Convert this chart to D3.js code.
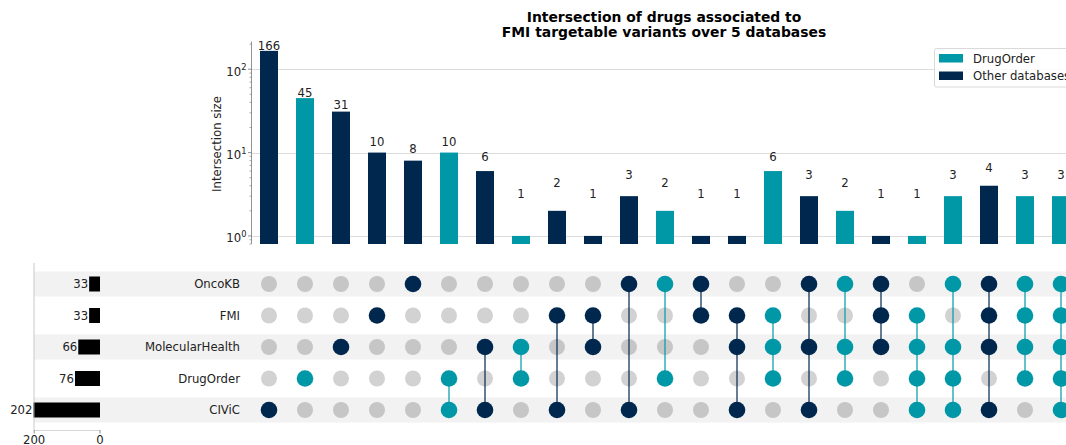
<!DOCTYPE html>
<html>
<head>
<meta charset="utf-8">
<script src="https://cdn.jsdelivr.net/npm/d3@7"></script>
<style>
  html, body { margin: 0; padding: 0; background: #fff; }
  svg { display: block; font-family: "DejaVu Sans", sans-serif; }
</style>
</head>
<body>
<svg id="chart" width="1066" height="445"></svg>
<script>
// ---- data ----
const titleLines = ["Intersection of drugs associated to", "FMI targetable variants over 5 databases"];
const sets = ["OncoKB", "FMI", "MolecularHealth", "DrugOrder", "CIViC"];
const setSizes = [33, 33, 66, 76, 202];
const intersections = [
  ["CIViC"],
  ["DrugOrder"],
  ["MolecularHealth"],
  ["FMI"],
  ["OncoKB"],
  ["DrugOrder", "CIViC"],
  ["MolecularHealth", "CIViC"],
  ["MolecularHealth", "DrugOrder"],
  ["FMI", "CIViC"],
  ["FMI", "MolecularHealth"],
  ["OncoKB", "CIViC"],
  ["OncoKB", "DrugOrder"],
  ["OncoKB", "FMI"],
  ["FMI", "MolecularHealth", "CIViC"],
  ["FMI", "MolecularHealth", "DrugOrder"],
  ["OncoKB", "MolecularHealth", "CIViC"],
  ["OncoKB", "MolecularHealth", "DrugOrder"],
  ["OncoKB", "FMI", "MolecularHealth"],
  ["FMI", "MolecularHealth", "DrugOrder", "CIViC"],
  ["OncoKB", "MolecularHealth", "DrugOrder", "CIViC"],
  ["OncoKB", "FMI", "MolecularHealth", "CIViC"],
  ["OncoKB", "FMI", "MolecularHealth", "DrugOrder"],
  ["OncoKB", "FMI", "MolecularHealth", "DrugOrder", "CIViC"]
];
const counts = [166, 45, 31, 10, 8, 10, 6, 1, 2, 1, 3, 2, 1, 1, 6, 3, 2, 1, 1, 3, 4, 3, 3];
const legendLabels = ["DrugOrder", "Other databases"];
const yTicks = [1, 10, 100];
const sizeTicks = [200, 0];
const highlightSet = "DrugOrder";

// ---- style ----
const TEAL = "#0097a7";
const NAVY = "#00284f";
const FS = 11.7;

const svg = d3.select("#chart");

const colorOf = i => intersections[i].includes(highlightSet) ? TEAL : NAVY;

// column scale (shared by bars and matrix)
const idx = d3.range(counts.length);
const x = d3.scaleBand().domain(idx).range([251, 251 + 36 * counts.length])
  .paddingInner(0.5).paddingOuter(0.25);
const cx = i => x(i) + x.bandwidth() / 2;

// log y scale for intersection sizes
const y = d3.scaleLog().domain([0.8, 215]).range([244, 41.5]);

// title
svg.append("g").selectAll("text").data(titleLines).join("text")
  .attr("x", 664).attr("y", (d, i) => 22 + i * 15)
  .attr("text-anchor", "middle")
  .attr("font-size", 13.9).attr("font-weight", "bold").attr("fill", "#000")
  .text(d => d);

// gridlines
svg.append("g").selectAll("line").data(yTicks).join("line")
  .attr("x1", 251).attr("x2", 1066)
  .attr("y1", d => Math.round(y(d)) + 0.5).attr("y2", d => Math.round(y(d)) + 0.5)
  .attr("stroke", "#dcdcdc").attr("stroke-width", 1);

// bars
svg.append("g").selectAll("rect").data(idx).join("rect")
  .attr("x", i => x(i)).attr("width", x.bandwidth())
  .attr("y", i => y(counts[i])).attr("height", i => y.range()[0] - y(counts[i]))
  .attr("fill", i => colorOf(i));

// bar labels (offset in data units like upsetplot)
const margin = 1.88;
svg.append("g").selectAll("text").data(idx).join("text")
  .attr("x", i => cx(i)).attr("y", i => y(counts[i] + margin))
  .attr("text-anchor", "middle").attr("font-size", FS).attr("fill", "#222")
  .text(i => counts[i]);

// y axis
const yAxisG = svg.append("g");
yAxisG.append("line").attr("x1", 251.5).attr("x2", 251.5).attr("y1", 41.5).attr("y2", 244)
  .attr("stroke", "#777").attr("stroke-width", 0.8);
const minor = [];
[-1, 0, 1, 2].forEach(k => { for (let m = 2; m <= 9; m++) { const v = m * Math.pow(10, k); if (v >= 0.8 && v <= 215) minor.push(v); } });
yAxisG.selectAll("line.minor").data(minor).join("line").attr("class", "minor")
  .attr("x1", 249.5).attr("x2", 251.5)
  .attr("y1", d => y(d)).attr("y2", d => y(d))
  .attr("stroke", "#777").attr("stroke-width", 0.6);
yAxisG.selectAll("line.major").data(yTicks).join("line").attr("class", "major")
  .attr("x1", 248).attr("x2", 251.5)
  .attr("y1", d => y(d)).attr("y2", d => y(d))
  .attr("stroke", "#777").attr("stroke-width", 0.8);
const tl = yAxisG.selectAll("text.tl").data(yTicks).join("text").attr("class", "tl")
  .attr("x", 246.5).attr("y", d => y(d) + 6.5)
  .attr("text-anchor", "end").attr("font-size", FS).attr("fill", "#222");
tl.append("tspan").text("10");
tl.append("tspan").attr("font-size", 8.3).attr("dy", -5.5).text(d => Math.round(Math.log10(d)));

svg.append("text")
  .attr("transform", "translate(221,144) rotate(-90)")
  .attr("text-anchor", "middle").attr("font-size", FS).attr("fill", "#222")
  .text("Intersection size");

// legend
const lg = svg.append("g");
lg.append("rect").attr("x", 934.5).attr("y", 48.5).attr("width", 140).attr("height", 38.5)
  .attr("rx", 2).attr("fill", "#fff").attr("fill-opacity", 0.85).attr("stroke", "#d9d9d9");
lg.selectAll("rect.p").data(legendLabels).join("rect").attr("class", "p")
  .attr("x", 939).attr("y", (d, i) => 54 + i * 17.5).attr("width", 24).attr("height", 8.5)
  .attr("fill", (d, i) => i === 0 ? TEAL : NAVY);
lg.selectAll("text").data(legendLabels).join("text")
  .attr("x", 973).attr("y", (d, i) => 62.5 + i * 17.5)
  .attr("font-size", FS).attr("fill", "#222").text(d => d);

// matrix
const rowY = d3.scaleBand().domain(sets).range([268.25, 268.25 + 31.5 * sets.length]);
const ry = s => rowY(s) + rowY.bandwidth() / 2;

// stripes
svg.append("g").selectAll("rect").data(sets.filter((s, i) => i % 2 === 0)).join("rect")
  .attr("x", 34).attr("width", 1066 - 34)
  .attr("y", s => ry(s) - 12.5).attr("height", 25)
  .attr("fill", "#f2f2f2");

// row labels
svg.append("g").selectAll("text").data(sets).join("text")
  .attr("x", 240).attr("y", s => ry(s) + 4.3)
  .attr("text-anchor", "end").attr("font-size", FS).attr("fill", "#222")
  .text(s => s);

// inactive dots
const cells = [];
idx.forEach(i => sets.forEach((s, r) => cells.push({ i, s, r, on: intersections[i].includes(s) })));
svg.append("g").selectAll("circle").data(cells.filter(c => !c.on)).join("circle")
  .attr("cx", c => cx(c.i)).attr("cy", c => ry(c.s)).attr("r", 8)
  .attr("fill", c => c.r % 2 === 0 ? "#c6c6c6" : "#d2d2d2");

// connectors
svg.append("g").selectAll("line").data(idx.filter(i => intersections[i].length > 1)).join("line")
  .attr("x1", i => cx(i)).attr("x2", i => cx(i))
  .attr("y1", i => d3.min(intersections[i], s => ry(s)))
  .attr("y2", i => d3.max(intersections[i], s => ry(s)))
  .attr("stroke", i => colorOf(i)).attr("stroke-opacity", 0.6).attr("stroke-width", 2);

// active dots
svg.append("g").selectAll("circle").data(cells.filter(c => c.on)).join("circle")
  .attr("cx", c => cx(c.i)).attr("cy", c => ry(c.s)).attr("r", 8.3)
  .attr("fill", c => colorOf(c.i));

// set size bars (left)
const sx = d3.scaleLinear().domain([0, 202]).range([100, 33.5]);
svg.append("g").selectAll("rect").data(sets).join("rect")
  .attr("x", (s, k) => sx(setSizes[k])).attr("width", (s, k) => sx(0) - sx(setSizes[k]))
  .attr("y", s => ry(s) - 7.5).attr("height", 15)
  .attr("fill", "#000");
svg.append("g").selectAll("text").data(sets).join("text")
  .attr("x", (s, k) => sx(setSizes[k]) - 1).attr("y", s => ry(s) + 4.3)
  .attr("text-anchor", "end").attr("font-size", FS).attr("fill", "#222")
  .text((s, k) => setSizes[k]);
// left spine + bottom axis
svg.append("line").attr("x1", 34).attr("x2", 34).attr("y1", 263).attr("y2", 430)
  .attr("stroke", "#bbb").attr("stroke-width", 0.8);
svg.append("line").attr("x1", 34).attr("x2", 100).attr("y1", 430.5).attr("y2", 430.5)
  .attr("stroke", "#ccc").attr("stroke-width", 0.8);
svg.append("g").selectAll("line").data(sizeTicks).join("line")
  .attr("x1", d => sx(d)).attr("x2", d => sx(d)).attr("y1", 430).attr("y2", 433.5)
  .attr("stroke", "#777").attr("stroke-width", 0.8);
svg.append("g").selectAll("text").data(sizeTicks).join("text")
  .attr("x", d => sx(d)).attr("y", 443.5)
  .attr("text-anchor", "middle").attr("font-size", FS).attr("fill", "#222")
  .text(d => d);
</script>
</body>
</html>
